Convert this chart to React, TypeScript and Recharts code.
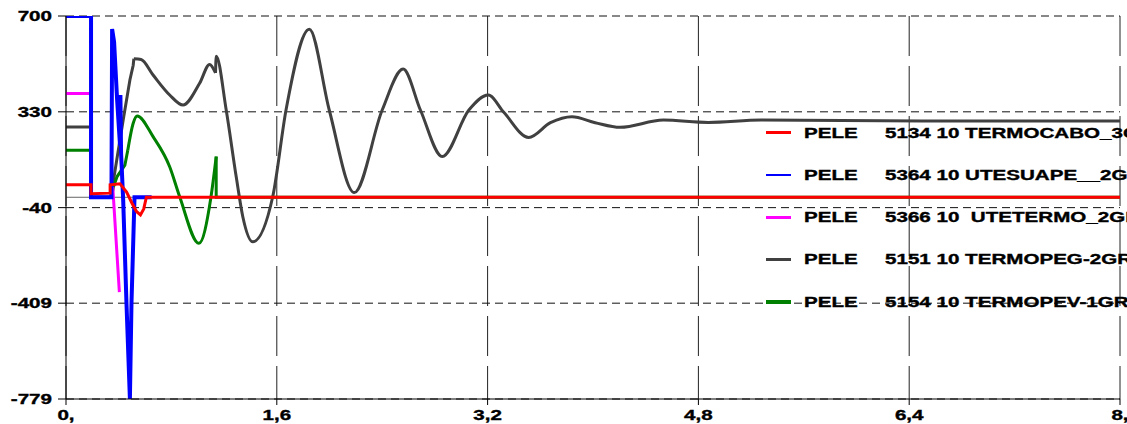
import React from 'react';
import { LineChart, Line, XAxis, YAxis, CartesianGrid, ReferenceLine } from 'recharts';

// axis ticks
const xTicks = [0, 1.6, 3.2, 4.8, 6.4, 8];
const xTickLabels = ['0,', '1,6', '3,2', '4,8', '6,4', '8,'];
const yTicks = [-779, -409, -40, 330, 700];
const yTickLabels = ['-779', '-409', '-40', '330', '700'];

// PELE 5134 TERMOCABO (red)
const redT = [0, 0.19, 0.19, 0.335, 0.335, 0.41, 0.46, 0.5, 0.535, 0.565, 0.59, 0.61, 8];
const redV = [48, 48, 14, 16, 48, 52, 20, -22, -55, -68, -45, 0, 0];

// PELE 5364 UTESUAPE (blue)
const blueT = [0, 0.19, 0.19, 0.345, 0.35, 0.365, 0.388, 0.41, 0.413, 0.418, 0.434, 0.459, 0.485, 0.497, 0.52, 0.65];
const blueV = [700, 700, 0, 0, 650, 600, 376, 200, 395, 170, -10, -409, -779, -409, 0, 0];

// PELE 5366 UTETERMO (magenta)
const magT = [0, 0.19, 0.19, 0.35, 0.355, 0.405];
const magV = [401, 401, 0, 0, 40, -366];

// PELE 5151 TERMOPEG (gray) - pieces
const grayAT = [0, 0.19, 0.19, 0.34, 0.383, 0.434, 0.485, 0.51, 0.515];
const grayAV = [271, 271, 0, 0, 137, 298, 453, 510, 535];
const grayBT = [0.515, 0.57, 0.661, 0.787, 0.888, 1.014, 1.09, 1.135];
const grayBV = [535, 532, 472, 395, 356, 440, 513, 480];
const grayCT = [1.135, 1.14, 1.216, 1.292, 1.342, 1.418, 1.569, 1.67, 1.847, 1.998, 2.188, 2.4, 2.559, 2.69, 2.856, 3.058, 3.205, 3.323, 3.512, 3.677, 3.84, 4.017, 4.206, 4.534, 4.875, 5.276, 6.5, 8];
const grayCV = [480, 545, 337, 79, -75, -172, 2, 337, 649, 337, 18, 337, 495, 337, 157, 337, 395, 328, 231, 288, 311, 288, 270, 298, 289, 298, 295, 295];

// PELE 5154 TERMOPEV (green) - pieces
const greenAT = [0, 0.19, 0.19, 0.345, 0.36, 0.388, 0.447, 0.469];
const greenAV = [182, 182, 0, 0, 40, 80, 124, 182];
const greenBT = [0.469, 0.51, 0.54, 0.661, 0.787, 0.863, 1.009, 1.1, 1.14];
const greenBV = [182, 286, 314, 234, 118, 2, -178, 0, 157];
const greenCT = [1.14, 1.14, 8];
const greenCV = [157, 0, 0];

const RED = '#ff0000';
const BLUE = '#0000ff';
const MAGENTA = '#ff00ff';
const GRAY = '#404040';
const GREEN = '#008000';

const legendRows = [
  { color: RED, w: 3, text: '5134 10 TERMOCABO_3GR' },
  { color: BLUE, w: 2.5, text: '5364 10 UTESUAPE__2GR' },
  { color: MAGENTA, w: 3, text: '5366 10  UTETERMO_2GR' },
  { color: GRAY, w: 2.5, text: '5151 10 TERMOPEG-2GR' },
  { color: GREEN, w: 4, text: '5154 10 TERMOPEV-1GR' },
];

const zip = (ts: number[], vs: number[]) => ts.map((t, i) => ({ t, v: vs[i] }));

const FONT = '"Liberation Sans", Arial, sans-serif';
const SX = 1.47;

const XTick = (props: any) => {
  const { x, y, payload } = props;
  const i = xTicks.indexOf(payload.value);
  return (
    <text transform={`translate(${x},${y + 13}) scale(${SX},1)`} textAnchor="middle"
      fontSize={14} fontWeight="bold" fontFamily={FONT} fill="#000" stroke="#000" strokeWidth={0.35}>
      {xTickLabels[i]}
    </text>
  );
};

const YTick = (props: any) => {
  const { x, y, payload } = props;
  const i = yTicks.indexOf(payload.value);
  return (
    <text transform={`translate(${x},${y + 5}) scale(${SX},1)`} textAnchor="end"
      fontSize={14} fontWeight="bold" fontFamily={FONT} fill="#000" stroke="#000" strokeWidth={0.35}>
      {yTickLabels[i]}
    </text>
  );
};

const textStyle: React.CSSProperties = {
  position: 'absolute', fontFamily: FONT, fontWeight: 'bold', fontSize: 14, lineHeight: '18px',
  transform: `scaleX(${SX})`, transformOrigin: 'left center', whiteSpace: 'pre', color: '#000',
  WebkitTextStroke: '0.35px #000',
};

export default function App() {
  const series = [
    { d: zip(grayAT, grayAV), c: GRAY, type: 'linear', w: 3 },
    { d: zip(grayBT, grayBV), c: GRAY, type: 'monotone', w: 3 },
    { d: zip(grayCT, grayCV), c: GRAY, type: 'monotone', w: 3 },
    { d: zip(greenAT, greenAV), c: GREEN, type: 'linear', w: 3 },
    { d: zip(greenBT, greenBV), c: GREEN, type: 'monotone', w: 3 },
    { d: zip(greenCT, greenCV), c: GREEN, type: 'linear', w: 3 },
    { d: zip(magT, magV), c: MAGENTA, type: 'linear', w: 3 },
    { d: zip(blueT, blueV), c: BLUE, type: 'linear', w: 4 },
    { d: zip(redT, redV), c: RED, type: 'linear', w: 3 },
  ];

  return (
    <div style={{ position: 'absolute', left: 0, top: 0, width: 1127, height: 424, overflow: 'hidden', background: '#fff' }}>
      <LineChart width={1127} height={424} margin={{ top: 16, right: 7, bottom: 0, left: 0 }}>
        <CartesianGrid horizontal={false} stroke="#222" strokeDasharray="40 10" />
        <CartesianGrid vertical={false} stroke="#111" strokeDasharray="8 5" />
        <XAxis type="number" dataKey="t" domain={[0, 8]} ticks={xTicks} allowDataOverflow
          height={25} tickSize={6} tickMargin={2} stroke="#000" tick={<XTick />} interval={0} />
        <YAxis type="number" dataKey="v" domain={[-779, 700]} ticks={yTicks} allowDataOverflow
          width={66} tickSize={8} tickMargin={6} stroke="#000" tick={<YTick />} interval={0} />
        <ReferenceLine y={0} stroke="#666" strokeWidth={1} />
        {series.map((s, i) => (
          <Line key={i} data={s.d} dataKey="v" type={s.type as any} stroke={s.c} strokeWidth={s.w}
            dot={false} activeDot={false} isAnimationActive={false} />
        ))}
      </LineChart>
      {legendRows.map((r, i) => {
        const cy = 132.5 + i * 42.3;
        return (
          <div key={i}>
            <div style={{ position: 'absolute', left: 766, top: cy - r.w / 2, width: 25, height: r.w, background: r.color }} />
            <div style={{ ...textStyle, left: 804, top: cy - 9 }}>PELE</div>
            <div style={{ ...textStyle, left: 885, top: cy - 9 }}>{r.text}</div>
          </div>
        );
      })}
    </div>
  );
}
